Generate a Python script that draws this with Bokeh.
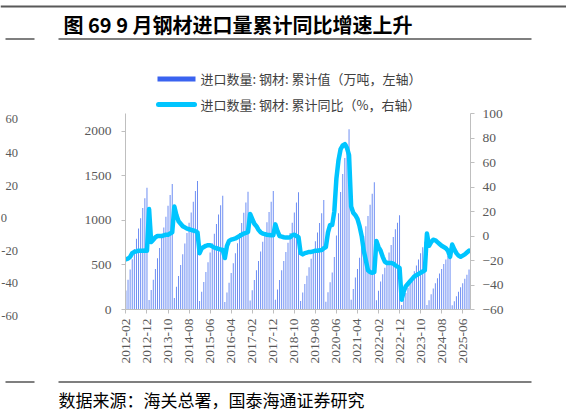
import numpy as np
from bokeh.plotting import figure
from bokeh.layouts import column, row
from bokeh.models import Range1d, LinearAxis, FixedTicker
from bokeh.core.properties import value
from bokeh.embed import file_html
from bokeh.resources import INLINE

# ---------------- data ----------------
all_months = [f"{y}-{m:02d}" for y in range(2012, 2026) for m in range(1, 13)]
months = all_months[all_months.index("2012-02"): all_months.index("2025-09") + 1]

# 进口数量: 钢材: 累计值 (万吨)
cum_2012 = [213, 335, 450, 565, 680, 795, 910, 1025, 1140, 1250, 1366]
cum_2013 = [107, 220, 335, 455, 575, 690, 805, 920, 1040, 1165, 1285, 1408]
cum_2014 = [130, 255, 375, 500, 620, 740, 860, 975, 1090, 1210, 1330, 1443]
cum_2015 = [95, 200, 310, 420, 530, 640, 745, 850, 960, 1065, 1170, 1278]
cum_2016 = [85, 190, 300, 410, 520, 630, 745, 860, 970, 1085, 1200, 1321]
cum_2017 = [100, 215, 330, 440, 545, 650, 760, 870, 980, 1095, 1210, 1330]
cum_2018 = [110, 225, 330, 440, 545, 645, 750, 860, 975, 1090, 1200, 1317]
cum_2019 = [95, 190, 285, 380, 475, 570, 670, 765, 865, 970, 1080, 1230]
cum_2020 = [87, 195, 305, 415, 590, 830, 1080, 1320, 1520, 1700, 1860, 2023]
cum_2021 = [110, 230, 360, 455, 580, 705, 825, 935, 1050, 1175, 1300, 1427]
cum_2022 = [105, 210, 315, 395, 470, 550, 640, 725, 815, 900, 975, 1057]
cum_2023 = [50, 115, 185, 245, 305, 365, 430, 495, 560, 630, 700, 761]
cum_2024 = [51, 105, 170, 235, 295, 350, 405, 455, 510, 560, 600, 632]
cum_2025 = [47, 92, 150, 200, 250, 295, 345, 390, 450]

# 进口数量: 钢材: 累计同比 (%)
yoy_2012 = [-19, -18.5, -17, -14, -13, -12.5, -12, -12, -12, -11.8, -12]
yoy_2013 = [22, -5, -3, -1, 0, 0, 0, 0.5, 1, 1, 2, 3]
yoy_2014 = [24, 17, 12, 10, 8, 7, 6, 5.5, 5, 4.5, 4, 3]
yoy_2015 = [-14, -10, -9, -8, -7.5, -7.5, -8.5, -9.5, -10, -10.5, -11, -11.4]
yoy_2016 = [-18, -8, -4, -3, -2.5, -2, -1, 0, 1, 2, 2.5, 3.3]
yoy_2017 = [18, 14, 10, 8, 5, 3, 2, 1.5, 1, 0.8, 0.6, 0.6]
yoy_2018 = [9.5, 4, 0, -0.5, -1, -1.3, -1.3, -1, 0.5, 1, 0, -1]
yoy_2019 = [-14, -15, -14, -13.5, -13, -13, -12.5, -12, -12, -11.7, -11.5, -10]
yoy_2020 = [-9, 3, 9, 9, 20, 47, 62, 71, 74, 75, 72, 66]
yoy_2021 = [24, 19, 17, 14, 8, 0, -12, -20, -28, -29.5, -30, -29.5]
yoy_2022 = [-4, -9, -12, -17, -21, -22, -22, -22, -22.5, -24, -25, -26]
yoy_2023 = [-52, -45, -41, -39, -37, -35, -33, -32, -31, -30, -29, -28]
yoy_2024 = [2, -8, -5, -3, -3.5, -5, -6.5, -8, -9, -10, -12, -17]
yoy_2025 = [-7, -11, -14, -16, -17, -16, -15, -13.5, -12]

import_cum = (cum_2012 + cum_2013 + cum_2014 + cum_2015 + cum_2016 + cum_2017 + cum_2018
              + cum_2019 + cum_2020 + cum_2021 + cum_2022 + cum_2023 + cum_2024 + cum_2025)
import_yoy = (yoy_2012 + yoy_2013 + yoy_2014 + yoy_2015 + yoy_2016 + yoy_2017 + yoy_2018
              + yoy_2019 + yoy_2020 + yoy_2021 + yoy_2022 + yoy_2023 + yoy_2024 + yoy_2025)

tick_labels = ["2012-02", "2012-12", "2013-10", "2014-08", "2015-06", "2016-04", "2017-02",
               "2017-12", "2018-10", "2019-08", "2020-06", "2021-04", "2022-02", "2022-12",
               "2023-10", "2024-08", "2025-06"]
left_ticks = [0, 500, 1000, 1500, 2000]
right_ticks = [-60, -40, -20, 0, 20, 40, 60, 80, 100]
frag_labels = ["60", "40", "20", "0", "-20", "-40", "-60"]

title_text = "图 69 9 月钢材进口量累计同比增速上升"
legend_bar = "进口数量: 钢材: 累计值（万吨，左轴）"
legend_line = "进口数量: 钢材: 累计同比（%，右轴）"
source_text = "数据来源：海关总署，国泰海通证券研究"

# ---------------- layout constants (page pixels) ----------------
W, H = 566, 412
TOP_H = 114          # decoration band above the chart (title, legend)
OVL = 14             # chart band overlaps the decoration band (transparent)
MID_Y0 = TOP_H - OVL # page y where the chart band starts
BOT_H = 40           # footer band
MID_H = H - BOT_H - MID_Y0
STRIP_W = 20         # left strip with the neighbouring chart's labels
FL, FR, FT, FB = 125, 470, 113, 309   # plot frame in page pixels

BAR_COL = "#6688F2"
LEG_BAR_COL = "#3A63F0"
LINE_COL = "#00C5FF"
AX_COL = "#BFBFBF"
LAB_COL = "#595959"
SERIF = "Liberation Serif"
CJK = "Noto Sans CJK SC"


def deco_fig(w, h, transparent=False):
    f = figure(width=w, height=h, output_backend="svg", toolbar_location=None,
               x_range=Range1d(0, w), y_range=Range1d(h, 0),
               x_axis_type=None, y_axis_type=None, min_border=0)
    f.frame_align = False
    f.outline_line_color = None
    f.grid.visible = False
    if transparent:
        f.background_fill_alpha = 0
        f.border_fill_alpha = 0
    else:
        f.background_fill_color = "white"
        f.border_fill_color = "white"
    return f


# ---------------- main chart ----------------
idx = list(range(len(months)))
main = figure(width=W - STRIP_W, height=MID_H, output_backend="svg", toolbar_location=None,
              x_range=Range1d(-0.2, len(months) - 1 + 0.7), y_range=Range1d(0, 2200),
              min_border_left=FL - STRIP_W, min_border_right=W - FR,
              min_border_top=FT - MID_Y0, min_border_bottom=MID_Y0 + MID_H - FB)
main.extra_y_ranges = {"pct": Range1d(-60, 100)}
main.outline_line_color = None
main.xgrid.visible = False
main.ygrid.visible = False
main.background_fill_color = "white"
main.border_fill_alpha = 0


def style_axis(ax, standoff):
    ax.axis_line_color = AX_COL
    ax.major_tick_line_color = AX_COL
    ax.major_tick_out = 4
    ax.major_tick_in = 0
    ax.minor_tick_line_color = None
    ax.major_label_text_font = SERIF
    ax.major_label_text_font_size = "13.5px"
    ax.major_label_text_color = LAB_COL
    ax.major_label_standoff = standoff


main.yaxis.ticker = FixedTicker(ticks=left_ticks)
style_axis(main.yaxis[0], 10)

rax = LinearAxis(y_range_name="pct", ticker=FixedTicker(ticks=right_ticks))
style_axis(rax, 8)
main.add_layout(rax, "right")

tick_pos = [months.index(t) for t in tick_labels]
main.xaxis.ticker = FixedTicker(ticks=tick_pos)
main.xaxis.major_label_overrides = {pos: lab for pos, lab in zip(tick_pos, tick_labels)}
main.xaxis.major_label_orientation = np.pi / 2
style_axis(main.xaxis[0], 5)

main.vbar(x=idx, top=import_cum, width=0.45, fill_color=BAR_COL, line_color=None)
main.line(x=idx, y=import_yoy, y_range_name="pct", line_color=LINE_COL, line_width=4.5,
          line_join="round", line_cap="round")

# ---------------- top band: rule, title, legend ----------------
top = deco_fig(W, TOP_H)
top.quad(left=[0], right=[W], top=[5], bottom=[7], fill_color="#595959", line_color=None)
top.quad(left=[5, 58], right=[34, 531], top=[38, 38], bottom=[39, 39],
         fill_color="#000000", line_color=None)
top.text(x=[63], y=[24], text=[title_text], text_font=value(CJK), text_font_size="20px",
         text_font_style="bold", text_color="#000000", text_baseline="middle")
top.quad(left=[157], right=[195], top=[76], bottom=[81], fill_color=LEG_BAR_COL, line_color=None)
top.line(x=[158, 194], y=[104, 104], line_color=LINE_COL, line_width=5, line_cap="round")
top.text(x=[200, 200], y=[78, 104], text=[legend_bar, legend_line], text_font=value(CJK),
         text_font_size="13px", text_color="#404040", text_baseline="middle")

# ---------------- left strip: labels of the neighbouring chart at the page edge ----------------
strip = deco_fig(STRIP_W, MID_H, transparent=True)
frag_y = [118, 152, 185, 217, 250, 282, 315]
frag_x = [17.5, 17.5, 17.5, 6.5, 17.5, 17.5, 17.5]
strip.text(x=frag_x, y=[fy - MID_Y0 for fy in frag_y], text=frag_labels,
           text_font=value(SERIF), text_font_size="12.5px", text_color=LAB_COL,
           text_align="right", text_baseline="middle")

# ---------------- bottom band: rules and source ----------------
bot = deco_fig(W, BOT_H)
y0 = H - BOT_H
bot.quad(left=[5, 58], right=[34, 531], top=[381 - y0, 381 - y0], bottom=[382 - y0, 382 - y0],
         fill_color="#000000", line_color=None)
bot.text(x=[58], y=[399 - y0], text=[source_text], text_font=value(CJK), text_font_size="17px",
         text_color="#000000", text_baseline="middle")

mid = row(strip, main, spacing=0, styles={"margin-top": f"-{OVL}px"})
layout = column(top, mid, bot, spacing=0)
open("out.html", "w").write(file_html(layout, INLINE))
